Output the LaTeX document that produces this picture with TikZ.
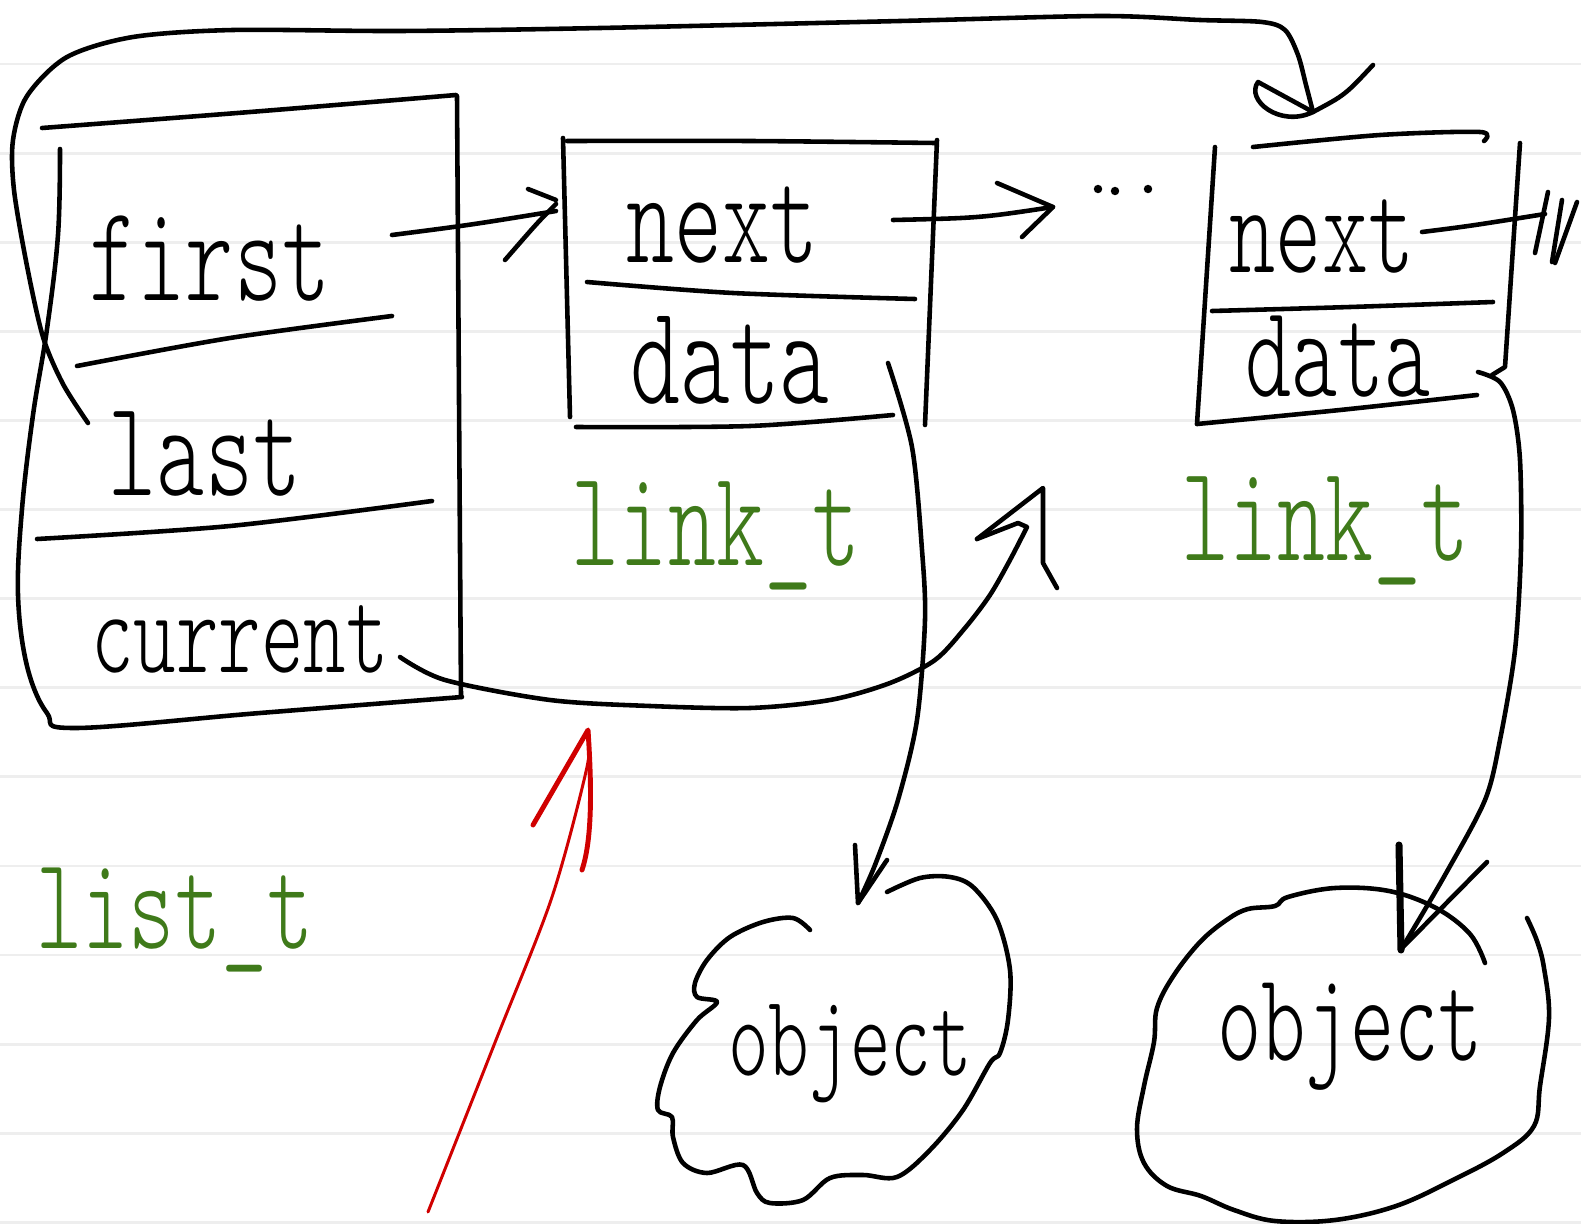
\documentclass[tikz,border=0pt]{standalone}
\usepackage{graphicx}
\definecolor{penGreen}{HTML}{3F7A1A}
\definecolor{penRed}{HTML}{D00000}
\definecolor{ruleGray}{HTML}{EEEEEE}
% pen-like lettering: Latin Modern Mono Light, stretched upward
\newcommand\handword[2]{{\font\hwfont="[lmmonolt10-regular]" at #1pt\hwfont\scalebox{1}[1.5]{#2}}}
\tikzset{
  ink/.style={draw=black, line width=1.3pt, line cap=round, line join=round},
  redline/.style={draw=penRed, line width=0.85pt, line cap=round, line join=round},
  redtip/.style={draw=penRed, line width=1.4pt, line cap=round, line join=round},
  ruling/.style={draw=ruleGray, line width=0.8pt},
  field/.style={inner sep=0pt, anchor=base, text=black},
  typelabel/.style={inner sep=0pt, anchor=base, text=penGreen},
  dot/.style={circle, fill=black, inner sep=0pt, minimum size=2.4pt},
}
\begin{document}
\begin{tikzpicture}[x=0.01cm, y=-0.01cm]
\useasboundingbox (0,0) rectangle (1581,1224);
\fill[white] (0,0) rectangle (1581,1224);
% notebook ruling
\foreach \k in {0,...,13} \draw[ruling] (0,{64+89.1*\k}) -- (1581,{64+89.1*\k});

% ---------- list_t record
\draw[ink] plot[smooth] coordinates {(42,128) (250,112) (456,95)};
\draw[ink] (457,96) -- (459,400) -- (461,697);
\draw[ink] plot[smooth, tension=0.6] coordinates {(60,149) (58,235) (47,329) (33,415) (22,509) (18,595) (27,666) (47,713) (75,728) (260,713) (462,697)};
\draw[ink] plot[smooth] coordinates {(77,366) (230,338) (392,316)};
\draw[ink] plot[smooth] coordinates {(37,539) (230,526) (432,501)};
\node[field] (first) at (210,300) {\handword{26}{first}};
\node[field] (last) at (205,495) {\handword{26}{last}};
\node[field] (current) at (240,672) {\handword{23}{current}};
\node[typelabel] (listT) at (175,948) {\handword{25}{list\_t}};

% ---------- first link_t
\draw[ink] (563,138) -- (570,417);
\draw[ink] plot[smooth] coordinates {(567,141) (750,141) (935,143)};
\draw[ink] (937,140) -- (925,425);
\draw[ink] plot[smooth] coordinates {(587,282) (733,293) (915,299)};
\draw[ink] plot[smooth] coordinates {(576,427) (750,426) (893,415)};
\node[field] (nextA) at (722,262) {\handword{26}{next}};
\node[field] (dataA) at (730,403) {\handword{27}{data}};
\node[typelabel] (linkA) at (716,565) {\handword{26}{link\_t}};

% ---------- last link_t
\draw[ink] plot[smooth] coordinates {(1253,147) (1380,135) (1480,132) (1484,141)};
\draw[ink] (1215,147) -- (1197,424);
\draw[ink] plot[smooth] coordinates {(1197,424) (1340,410) (1477,395)};
\draw[ink] (1520,143) -- (1505,367) -- (1492,375);
\draw[ink] plot[smooth] coordinates {(1212,311) (1350,307) (1493,302)};
\node[field] (nextB) at (1322,272) {\handword{25}{next}};
\node[field] (dataB) at (1338,396) {\handword{25}{data}};
\node[typelabel] (linkB) at (1325,560) {\handword{26}{link\_t}};

% null terminator on the last next
\coordinate (nullFrom) at (1422,232);
\coordinate (nullEnd) at (1545,214);
\draw[ink] (nullFrom) .. controls (1470,226) .. (nullEnd);
\draw[ink] (1548,192) -- (1535,253);
\draw[ink] (1562,200) -- (1552,262);
\draw[ink] (1577,202) -- (1555,263);

% ---------- first -> next
\coordinate (firstTail) at (392,235);
\coordinate (nextAHead) at (556,211);
\draw[ink] (firstTail) .. controls (470,225) .. (nextAHead);
\draw[ink] (528,189) -- (556,200);
\draw[ink] (556,204) .. controls (538,222) .. (505,260);

% ---------- next -> ...
\coordinate (nextATail) at (893,220);
\coordinate (dotsHead) at (1053,207);
\draw[ink] (nextATail) .. controls (980,218) .. (dotsHead);
\draw[ink] (997,183) -- (dotsHead) -- (1022,237);
\node[dot] (dot1) at (1098,189) {};
\node[dot] (dot2) at (1115,191) {};
\node[dot] (dot3) at (1148,189) {};

% ---------- current -> some link
\coordinate (currentTail) at (400,657);
\coordinate (currentHead) at (1043,488);
\draw[ink] plot[smooth] coordinates {(currentTail) (445,680) (550,700) (650,706) (750,708) (830,700) (890,683) (935,660) (965,628) (990,595) (1010,560) (1027,527)} -- (1018,523) -- (977,539);
\draw[ink] (977,539) -- (currentHead) -- (1043,563) -- (1057,588);

% ---------- last -> last link_t
\coordinate (lastTail) at (88,423);
\coordinate (linkBTop) at (1313,112);
\draw[ink] plot[smooth] coordinates {(lastTail) (63,384) (43,337) (27,266) (14,190) (13,140) (27,96) (67,57) (133,37) (233,30) (400,31) (600,28) (900,21) (1100,16) (1200,20) (1262,22) (1285,30) (1298,55) (1306,85) (linkBTop)};
\draw[ink] (1373,65) .. controls (1345,95) .. (linkBTop) .. controls (1280,128) and (1245,100) .. (1258,82) -- (linkBTop);

% ---------- data -> object
\coordinate (dataATail) at (888,363);
\coordinate (objATip) at (858,903);
\draw[ink] plot[smooth] coordinates {(dataATail) (912,447) (922,550) (925,620) (917,720) (898,800) (875,865) (objATip)};
\draw[ink] (855,845) -- (objATip) -- (887,860);

\coordinate (dataBTail) at (1478,372);
\coordinate (objBTip) at (1402,948);
\draw[ink] plot[smooth] coordinates {(dataBTail) (1500,382) (1513,410) (1520,460) (1521,550) (1515,650) (1500,740) (1485,800) (1445,875) (objBTip)};
\draw[ink, line width=2pt] (1399,845) -- (1401,950);
\draw[ink] (1487,862) -- (objBTip);

% ---------- objects
\draw[ink] plot[smooth, tension=0.55] coordinates {(810,930) (793,918) (763,922) (730,937) (707,960) (695,983) (697,997) (717,1002) (697,1020) (673,1053) (660,1087) (658,1110) (672,1117) (673,1137) (683,1163) (707,1173) (743,1165) (757,1193) (770,1203) (803,1200) (830,1178) (863,1175) (897,1177) (930,1150) (963,1110) (990,1063) (1000,1053) (1008,1020) (1010,970) (997,920) (973,887) (950,877) (920,878) (887,892)};
\node[field] (objA) at (850,1075) {\handword{22}{object}};

\draw[ink] plot[smooth, tension=0.6] coordinates {(1485,963) (1470,934) (1436,908) (1389,891) (1335,888) (1288,897) (1275,906) (1248,909) (1228,919) (1201,941) (1174,975) (1157,1008) (1154,1042) (1144,1086) (1137,1129) (1144,1163) (1167,1186) (1201,1196) (1234,1210) (1275,1221) (1335,1220) (1396,1206) (1453,1180) (1503,1153) (1534,1126) (1540,1086) (1549,1018) (1544,968) (1537,941) (1527,918)};
\node[field] (objB) at (1350,1060) {\handword{24}{object}};

% ---------- red pointer
\coordinate (redTail) at (428,1212);
\coordinate (redHead) at (588,730);
\draw[redline] plot[smooth] coordinates {(redTail) (496,1040) (552,897) (587,767) (redHead)};
\draw[redtip] (533,825) -- (redHead) .. controls (592,790) and (592,840) .. (582,870);
\end{tikzpicture}
\end{document}
